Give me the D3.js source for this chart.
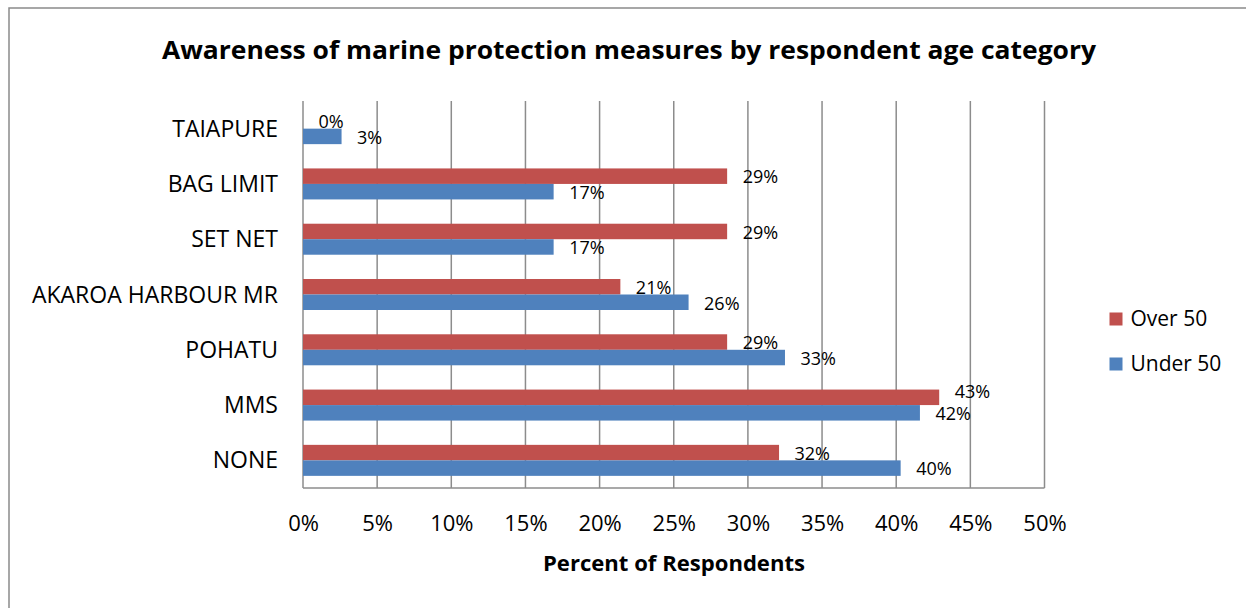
<!DOCTYPE html>
<html>
<head>
<meta charset="utf-8">
<script src="https://cdn.jsdelivr.net/npm/d3@7"></script>
<style>
  html, body { margin: 0; padding: 0; background: #fff; }
  svg { display: block; font-family: "Open Sans", sans-serif; }
</style>
</head>
<body>
<svg id="chart" width="1246" height="608"></svg>
<script>
// Awareness categories, top to bottom
const categories = ["TAIAPURE", "BAG LIMIT", "SET NET", "AKAROA HARBOUR MR", "POHATU", "MMS", "NONE"];
// Share of respondents aware of each measure
const over50 = [0.000, 0.286, 0.286, 0.214, 0.286, 0.429, 0.321];
const under50 = [0.026, 0.169, 0.169, 0.260, 0.325, 0.416, 0.403];
const seriesNames = ["Over 50", "Under 50"];
const seriesColors = ["#C0504D", "#4F81BD"];
const xTicks = [0, 0.05, 0.10, 0.15, 0.20, 0.25, 0.30, 0.35, 0.40, 0.45, 0.50];

const svg = d3.select("#chart");
const plot = { left: 303, right: 1044.5, top: 101, bottom: 488 };

// Chart frame
svg.append("rect")
  .attr("x", 9).attr("y", 8).attr("width", 1260).attr("height", 640)
  .attr("fill", "#fff").attr("stroke", "#8a8a8a").attr("stroke-width", 1.5);

const x = d3.scaleLinear().domain([0, 0.5]).range([plot.left, plot.right]);
const y = d3.scaleBand().domain(categories).range([plot.top, plot.bottom]).paddingInner(0).paddingOuter(0);
const sub = d3.scaleBand().domain(seriesNames).range([0, 31]);
const bandOffset = (y.bandwidth() - 31) / 2;

// Vertical gridlines
svg.append("g")
  .selectAll("line").data(xTicks).join("line")
  .attr("x1", d => x(d)).attr("x2", d => x(d))
  .attr("y1", plot.top).attr("y2", plot.bottom)
  .attr("stroke", "#8c8c8c").attr("stroke-width", 1.5);

// Bottom axis line
svg.append("line")
  .attr("x1", plot.left).attr("x2", plot.right)
  .attr("y1", plot.bottom).attr("y2", plot.bottom)
  .attr("stroke", "#8c8c8c").attr("stroke-width", 1.5);

// X axis tick labels
const xAxis = d3.axisBottom(x).tickValues(xTicks).tickFormat(d3.format(".0%")).tickSize(0).tickPadding(0);
const gx = svg.append("g").attr("transform", `translate(0,${plot.bottom})`).call(xAxis);
gx.select(".domain").remove();
gx.selectAll("text")
  .attr("y", 43).attr("dy", null)
  .attr("font-family", "Open Sans").attr("font-size", 22).attr("fill", "#000");

// Y axis category labels
const yAxis = d3.axisLeft(y).tickSize(0).tickPadding(25);
const gy = svg.append("g").attr("transform", `translate(${plot.left},0)`).call(yAxis);
gy.select(".domain").remove();
gy.selectAll("text")
  .attr("dy", "0.35em")
  .attr("font-family", "Open Sans").attr("font-size", 23).attr("fill", "#000");

// Bars and data labels
const rows = categories.map((c, i) => ({ cat: c, values: [over50[i], under50[i]] }));
const groups = svg.append("g").selectAll("g").data(rows).join("g")
  .attr("transform", d => `translate(0,${y(d.cat) + bandOffset})`);

groups.selectAll("rect")
  .data(d => d.values.map((v, j) => ({ name: seriesNames[j], v, color: seriesColors[j] })))
  .join("rect")
  .attr("x", x(0))
  .attr("y", d => sub(d.name))
  .attr("width", d => x(d.v) - x(0))
  .attr("height", sub.bandwidth())
  .attr("fill", d => d.color);

// Labels sit just past each bar end; when the two labels of a group would
// collide horizontally, the upper one is nudged up to keep them apart.
const labelWidth = 36;
groups.selectAll("text")
  .data(d => {
    const lx = d.values.map(v => x(v) + 15.5);
    const clash = Math.abs(lx[0] - lx[1]) < labelWidth;
    return d.values.map((v, j) => ({ name: seriesNames[j], v, lx: lx[j], shift: (clash && j === 0) ? -7 : 0 }));
  })
  .join("text")
  .attr("x", d => d.lx)
  .attr("y", d => sub(d.name) + sub.bandwidth() - 0.5 + d.shift)
  .attr("font-family", "Open Sans").attr("font-size", 18).attr("fill", "#000")
  .text(d => d3.format(".0%")(d.v));

// Title
svg.append("text")
  .attr("x", 629).attr("y", 59).attr("text-anchor", "middle")
  .attr("font-family", "Open Sans").attr("font-weight", "bold").attr("font-size", 25)
  .attr("textLength", 934).attr("lengthAdjust", "spacingAndGlyphs")
  .text("Awareness of marine protection measures by respondent age category");

// X axis title
svg.append("text")
  .attr("x", 674).attr("y", 571).attr("text-anchor", "middle")
  .attr("font-family", "Open Sans").attr("font-weight", "bold").attr("font-size", 21)
  .attr("textLength", 262).attr("lengthAdjust", "spacingAndGlyphs")
  .text("Percent of Respondents");

// Legend
const legend = svg.append("g").selectAll("g").data(seriesNames).join("g")
  .attr("transform", (d, i) => `translate(1109.5,${312.5 + i * 45})`);
legend.append("rect")
  .attr("width", 13).attr("height", 13)
  .attr("fill", (d, i) => seriesColors[i]);
legend.append("text")
  .attr("x", 21).attr("y", 13.5)
  .attr("font-family", "Open Sans").attr("font-size", 21).attr("fill", "#000")
  .text(d => d);
</script>
</body>
</html>
